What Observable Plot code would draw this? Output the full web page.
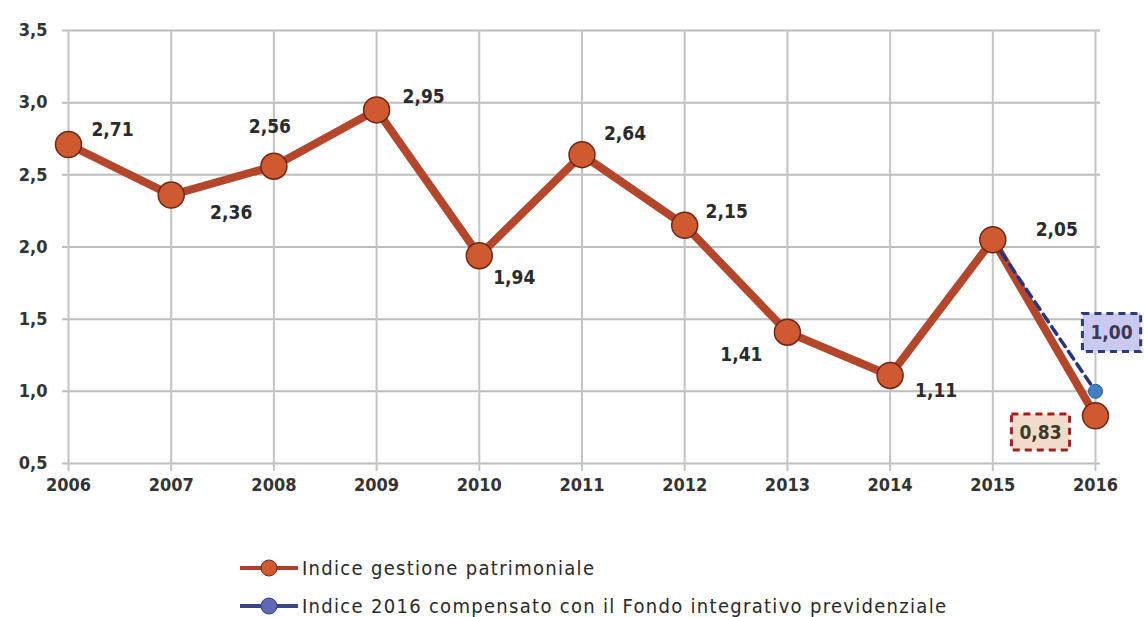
<!DOCTYPE html>
<html>
<head>
<meta charset="utf-8">
<script src="https://cdn.jsdelivr.net/npm/d3@7"></script>
<script src="https://cdn.jsdelivr.net/npm/@observablehq/plot@0.6"></script>
<style>
  body { margin: 0; background: #fff; font-family: "DejaVu Sans Condensed", "DejaVu Sans", sans-serif; }
  #chart svg { display: block; }
  .legend { padding-left: 238px; margin-top: 29px; }
  .legend .row { display: flex; align-items: center; height: 38px; font-size: 20px; letter-spacing: 1.3px; color: #2a2a2a; }
  .legend svg { margin-right: 2px; }
</style>
</head>
<body>
<div id="chart"></div>
<div class="legend">
  <div class="row"><svg width="62" height="24"><line x1="2" x2="60" y1="12" y2="12" stroke="#a8402a" stroke-width="4"/><circle cx="31" cy="12" r="8" fill="#cf5a2f" stroke="#7a2c19" stroke-width="1"/></svg>Indice gestione patrimoniale</div>
  <div class="row"><svg width="62" height="24"><line x1="2" x2="60" y1="12" y2="12" stroke="#3a4585" stroke-width="4"/><circle cx="31" cy="12" r="8" fill="#5f68b4" stroke="#3a4585" stroke-width="1"/></svg>Indice 2016 compensato con il Fondo integrativo previdenziale</div>
</div>
<script>
// Indice gestione patrimoniale, 2006–2016
const years = [2006, 2007, 2008, 2009, 2010, 2011, 2012, 2013, 2014, 2015, 2016];
const values = [2.71, 2.36, 2.56, 2.95, 1.94, 2.64, 2.15, 1.41, 1.11, 2.05, 0.83];

// 2016 index compensated with the supplementary pension fund
const compYears = [2015, 2016];
const compValues = [2.05, 1.00];

const yTicks = [0.5, 1.0, 1.5, 2.0, 2.5, 3.0, 3.5];

const main = years.map((year, i) => ({year, value: values[i]}));
const comp = compYears.map((year, i) => ({year, value: compValues[i]}));

// label offsets (px) relative to each point
const offsets = {
  2006: [44, -15], 2007: [60, 18], 2008: [-4, -39], 2009: [47, -13],
  2010: [35, 22], 2011: [43, -21], 2012: [42, -13], 2013: [-46, 23],
  2014: [46, 15], 2015: [64, -10]
};

const fmt = v => d3.format(".2f")(v).replace(".", ",");
const fontFam = '"DejaVu Sans Condensed", "DejaVu Sans", sans-serif';

const plainLabels = main.filter(d => d.year !== 2016);
const boxedMain = main.filter(d => d.year === 2016);
const boxedComp = comp.filter(d => d.year === 2016);

// one text mark per label so each gets its own offset
const labelMarks = plainLabels.map(d => Plot.text([d], {
  x: "year", y: "value", text: p => fmt(p.value),
  dx: offsets[d.year][0], dy: offsets[d.year][1],
  fontSize: 19, fontWeight: 600, fill: "#2b2b2b"
}));

const chart = Plot.plot({
  width: 1144,
  height: 520,
  marginTop: 30,
  marginBottom: 57,
  marginLeft: 62,
  marginRight: 44,
  style: {fontFamily: fontFam, background: "#fff"},
  x: {domain: [2006, 2016], insetLeft: 6, insetRight: 5, label: null},
  y: {domain: [0.5, 3.5], label: null},
  marks: [
    Plot.gridY(yTicks, {stroke: "#bdbdbd", strokeOpacity: 1, strokeWidth: 2}),
    Plot.gridX(years, {stroke: "#c4c4c4", strokeOpacity: 1, strokeWidth: 2}),
    Plot.axisX(years, {tickSize: 8, stroke: "#c4c4c4", strokeWidth: 2, tickPadding: 7, fontSize: 18, fontWeight: "bold", fill: "#333", tickFormat: d => String(d), label: null}),
    Plot.axisY(yTicks, {tickSize: 0, tickPadding: 15, fontSize: 18, fontWeight: "bold", fill: "#333", tickFormat: d => d3.format(".1f")(d).replace(".", ","), label: null}),
    Plot.line(main, {x: "year", y: "value", stroke: "#b4462b", strokeWidth: 8, strokeLinejoin: "round"}),
    Plot.line(comp, {x: "year", y: "value", stroke: "#26357c", strokeWidth: 3.5, strokeDasharray: "9,6"}),
    Plot.dot(main, {x: "year", y: "value", r: 13, fill: "#d05a2f", stroke: "#6e2717", strokeWidth: 1.5}),
    Plot.dot(boxedComp, {x: "year", y: "value", r: 7, fill: "#3f7fc2", stroke: "#2c5a92", strokeWidth: 1}),
    ...labelMarks,
    Plot.text(boxedMain, {x: "year", y: "value", text: d => fmt(d.value), dx: -55, dy: 17,
      fontSize: 19, fontWeight: 600, fill: "#3a3d2a", className: "box-red"}),
    Plot.text(boxedComp, {x: "year", y: "value", text: d => fmt(d.value), dx: 16, dy: -58,
      fontSize: 19, fontWeight: 600, fill: "#3a3a55", className: "box-blue"})
  ]
});

document.getElementById("chart").appendChild(chart);

// dashed boxes behind the 2016 labels
function boxBehind(cls, fill, stroke, padX, padY) {
  chart.querySelectorAll("." + cls + " text").forEach(t => {
    const b = t.getBBox();
    const tr = t.getAttribute("transform");
    const rect = document.createElementNS("http://www.w3.org/2000/svg", "rect");
    rect.setAttribute("x", b.x - padX);
    rect.setAttribute("y", b.y - padY);
    rect.setAttribute("width", b.width + 2 * padX);
    rect.setAttribute("height", b.height + 2 * padY);
    rect.setAttribute("fill", fill);
    rect.setAttribute("stroke", stroke);
    rect.setAttribute("stroke-width", 3);
    rect.setAttribute("stroke-dasharray", "7,5");
    if (tr) rect.setAttribute("transform", tr);
    t.parentNode.insertBefore(rect, t);
  });
}
boxBehind("box-red", "#f1dccb", "#a3201f", 8, 7);
boxBehind("box-blue", "#cac9f0", "#2f3a78", 8, 8);
</script>
</body>
</html>
